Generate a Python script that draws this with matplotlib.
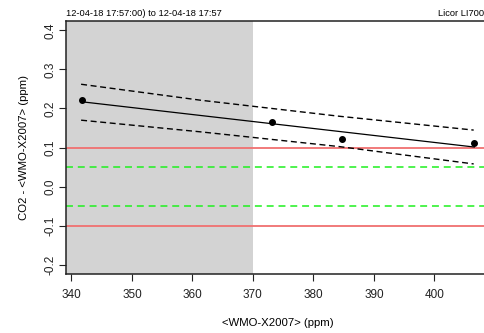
import numpy as np
import matplotlib
matplotlib.use("Agg")
import matplotlib.pyplot as plt

plt.rcParams['font.family'] = ['Liberation Sans', 'DejaVu Sans']
plt.rcParams['lines.scale_dashes'] = False

# mesures de l'instrument vs valeurs de reference
ref = np.array([341.7, 373.1, 384.8, 406.6])
diff = np.array([0.221, 0.166, 0.121, 0.1115])

# bandes de confiance lues aux abscisses suivantes
band_x = np.array([341.6, 361.4, 384.3, 406.5])
band_hi = np.array([0.262, 0.221, 0.180, 0.1446])
band_lo = np.array([0.170, 0.140, 0.1023, 0.0579])

limite_rouge = 0.1
limite_verte = 0.05
zone_grise_fin = 370

titre_gauche = "12-04-18 17:57:00) to 12-04-18 17:57"
titre_droite = "Licor LI700"
xticks = [340, 350, 360, 370, 380, 390, 400]
yticks = [-0.2, -0.1, 0.0, 0.1, 0.2, 0.3, 0.4]

fig = plt.figure(figsize=(4.85, 3.33), dpi=100)
ax = fig.add_axes([66 / 485, 1 - 274 / 333, (490 - 66) / 485, (274 - 21) / 333])

# limites facon R (4 % de marge)
x0, x1 = ref.min(), ref.max()
xlim = (x0 - 0.04 * (x1 - x0), x1 + 0.04 * (x1 - x0))
ylim = (-0.2 - 0.024, 0.4 + 0.024)
ax.set_xlim(xlim)
ax.set_ylim(ylim)

ax.axvspan(xlim[0], zone_grise_fin, color='#d3d3d3', lw=0, zorder=0)

for v in (limite_rouge, -limite_rouge):
    ax.axhline(v, color='#f07070', lw=1.3, zorder=1)
for v in (limite_verte, -limite_verte):
    ax.axhline(v, color='#1ef01e', lw=1.1, dashes=(5, 3.5), zorder=1)

# droite de regression
pente, orig = np.polyfit(ref, diff, 1)
ax.plot([x0, x1], [orig + pente * x0, orig + pente * x1], color='black', lw=0.9, zorder=2)
ax.plot(band_x, band_hi, color='black', lw=1.0, dashes=(4.3, 2.6), zorder=2)
ax.plot(band_x, band_lo, color='black', lw=1.0, dashes=(4.3, 2.6), zorder=2)
ax.plot(ref, diff, 'o', color='black', ms=4.0, zorder=3)

ax.set_xticks(xticks)
ax.set_yticks(yticks)
ax.set_yticklabels([f"{t:.1f}" for t in yticks], rotation=90, va='center')
ax.tick_params(direction='out', length=5, width=0.8, labelsize=8.5, colors='#222222')
ax.tick_params(axis='x', pad=6)
ax.tick_params(axis='y', pad=2)
for s in ax.spines.values():
    s.set_linewidth(1.1)
    s.set_color('#222222')

ax.set_xlabel("<WMO-X2007> (ppm)", fontsize=8.2, labelpad=12)
ax.set_ylabel("CO2 - <WMO-X2007> (ppm)", fontsize=8.2, labelpad=11)

ax.text(0.0, 1.012, titre_gauche, transform=ax.transAxes, fontsize=6.7,
        ha='left', va='bottom')
fig.text(0.999, 1 - 21 / 333 + 0.012 * (274 - 21) / 333, titre_droite, fontsize=6.7,
         ha='right', va='bottom')

fig.savefig("out.png", dpi=100)
